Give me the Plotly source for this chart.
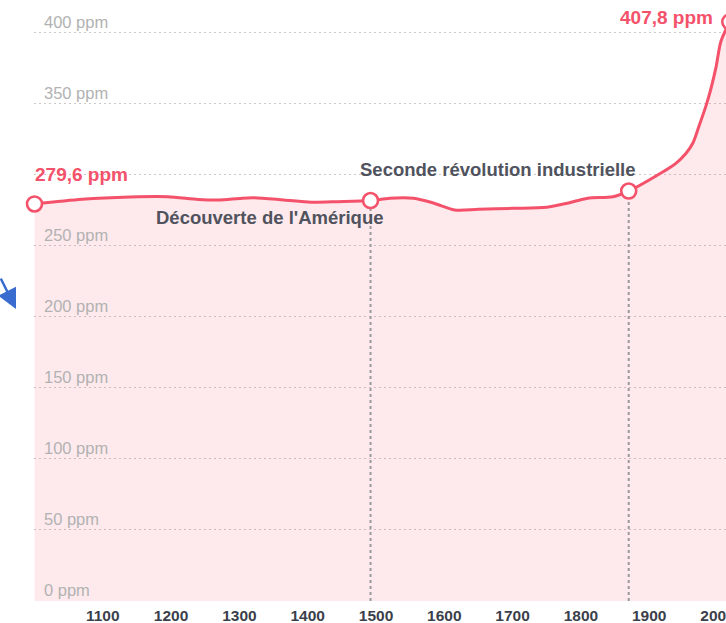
import plotly.graph_objects as go

# ---- data ----
years = [1000, 1070, 1140, 1195, 1240, 1270, 1300, 1320, 1365, 1405, 1445, 1492,
         1520, 1555, 1585, 1615, 1650, 1700, 1750, 1780, 1810, 1847, 1870, 1900,
         1939, 1954, 1964, 1973, 1983, 1990, 1998, 2005, 2018]
ppm = [279.6, 282.9, 284.5, 284.7, 282.8, 282.4, 283.5, 284.0, 282.4, 280.8, 281.2, 282.0,
       283.6, 283.6, 280.1, 275.4, 275.8, 276.5, 277.3, 280.1, 283.6, 284.7, 288.7, 296.5,
       308.2, 315.3, 322.5, 334.5, 348.5, 360.0, 376.3, 394.0, 407.8]

event_years = [1492, 1870]
event_labels = ["Découverte de l'Amérique", "Seconde révolution industrielle"]

x_tick_vals = [1100, 1200, 1300, 1400, 1500, 1600, 1700, 1800, 1900, 2000]
x_tick_text = [str(v) for v in x_tick_vals]
y_tick_vals = [0, 50, 100, 150, 200, 250, 300, 350, 400]
y_label_vals = [0, 50, 100, 150, 200, 250, 350, 400]   # 300 is hidden behind the value label
y_label_text = [f"{v} ppm" for v in y_label_vals]

RED = "#f4516b"
FONT = "Liberation Sans"

def val_at(year):
    return ppm[years.index(year)]

def fmt(v):
    return f"{v:.1f}".replace(".", ",") + " ppm"

fig = go.Figure()

fig.add_trace(go.Scatter(
    x=years, y=ppm, mode="lines",
    line=dict(color=RED, width=3, shape="spline", smoothing=0.8),
    fill="tozeroy", fillcolor="rgba(245,85,106,0.12)",
    hoverinfo="skip", showlegend=False,
))

for ey in event_years:
    fig.add_trace(go.Scatter(
        x=[ey, ey], y=[0, val_at(ey)], mode="lines",
        line=dict(color="#9a9a9a", width=2, dash="dot"),
        hoverinfo="skip", showlegend=False,
    ))

mk_years = [years[0]] + event_years + [years[-1]]
fig.add_trace(go.Scatter(
    x=mk_years, y=[val_at(y) for y in mk_years], mode="markers",
    marker=dict(size=15, color="white", line=dict(color=RED, width=2.6)),
    cliponaxis=False, hoverinfo="skip", showlegend=False,
))

annotations = []
for v, t in zip(y_label_vals, y_label_text):
    annotations.append(dict(
        x=0, xref="paper", y=v, yref="y", text=t, showarrow=False,
        xanchor="left", yanchor="middle", xshift=8, yshift=11,
        font=dict(family=FONT, size=16.5, color="#b2b2b2"),
    ))

annotations.append(dict(
    x=years[0], y=ppm[0], text=fmt(ppm[0]), showarrow=False,
    xanchor="left", yanchor="middle", xshift=-2, yshift=29,
    font=dict(family=FONT, size=19, color=RED, weight="bold"),
))
annotations.append(dict(
    x=years[-1], y=ppm[-1], text=fmt(ppm[-1]), showarrow=False,
    xanchor="right", yanchor="middle", xshift=-15, yshift=4,
    font=dict(family=FONT, size=19, color=RED, weight="bold"),
))

annotations.append(dict(
    x=event_years[0], y=val_at(event_years[0]), text=event_labels[0], showarrow=False,
    xanchor="right", yanchor="middle", xshift=15, yshift=-17,
    font=dict(family=FONT, size=18.5, color="#50535e", weight="bold"),
))
annotations.append(dict(
    x=event_years[1], y=val_at(event_years[1]), text=event_labels[1], showarrow=False,
    xanchor="right", yanchor="middle", xshift=9, yshift=22,
    font=dict(family=FONT, size=18.5, color="#50535e", weight="bold"),
))

# blue arrow at the left edge (pixel-based paper coords)
PLOT_W = 736 - 34
annotations.append(dict(
    x=(16 - 34) / PLOT_W, xref="paper", y=(601 - 309) / 601, yref="paper",
    ax=-22, ay=-32, text="", showarrow=True,
    arrowhead=2, arrowsize=1.6, arrowwidth=2.5, arrowcolor="#3a6ccf",
))

fig.update_layout(
    width=736, height=623,
    margin=dict(l=34, r=0, t=0, b=22, autoexpand=False),
    paper_bgcolor="white", plot_bgcolor="white",
    annotations=annotations,
    xaxis=dict(
        range=[999.27, 999.27 + PLOT_W / 0.683], tickvals=x_tick_vals, ticktext=x_tick_text,
        showgrid=False, zeroline=False, showline=False, ticks="",
        tickfont=dict(family=FONT, size=15.5, color="#3b3f4b", weight="bold"),
        ticklabelstandoff=3, automargin=False,
    ),
    yaxis=dict(
        range=[0, 423.2], tickvals=y_tick_vals, showticklabels=False,
        showgrid=True, gridcolor="#cacaca", gridwidth=1.3, griddash="2px,3px",
        zeroline=False, showline=False, ticks="", automargin=False,
    ),
)

fig.write_html("out.html", config={"displayModeBar": False},
               post_script="document.body.style.margin='0';document.body.style.overflow='hidden';")
